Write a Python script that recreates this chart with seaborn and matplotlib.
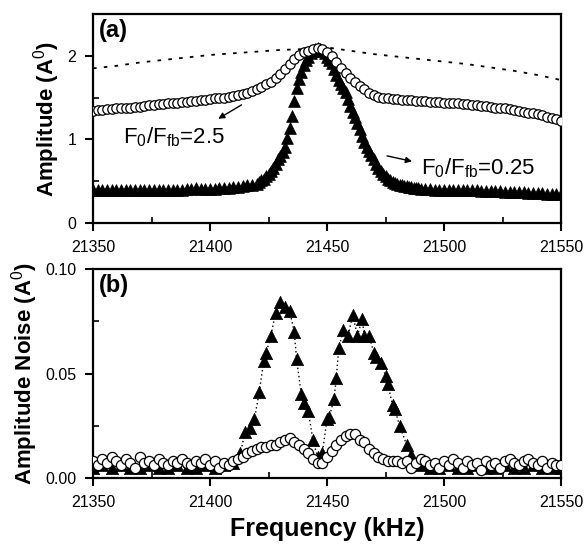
import numpy as np
import pandas as pd
import seaborn as sns
import matplotlib.pyplot as plt
from matplotlib.ticker import MultipleLocator

sns.set_style('ticks')
plt.rcParams['font.family'] = ['Liberation Sans', 'DejaVu Sans']
plt.rcParams['mathtext.fontset'] = 'custom'
plt.rcParams['mathtext.rm'] = 'Liberation Sans'
plt.rcParams['mathtext.it'] = 'Liberation Sans'
plt.rcParams['mathtext.bf'] = 'Liberation Sans:bold'
for key in ['axes.edgecolor', 'axes.labelcolor', 'text.color',
            'xtick.color', 'ytick.color']:
    plt.rcParams[key] = 'black'

# (a) amplitude, F0/Ffb = 2.5 (open circles), 2 kHz grid
freq_circ_a = np.arange(21350, 21551, 2)
amp_circ_a = [1.34, 1.35, 1.35, 1.36, 1.36, 1.37, 1.37, 1.38, 1.38, 1.39,
              1.39, 1.40, 1.41, 1.41, 1.42, 1.42, 1.43, 1.44, 1.44, 1.45,
              1.45, 1.46, 1.46, 1.47, 1.47, 1.48, 1.49, 1.49, 1.50, 1.51,
              1.52, 1.53, 1.54, 1.56, 1.58, 1.60, 1.63, 1.66, 1.69, 1.73,
              1.78, 1.84, 1.90, 1.96, 2.01, 2.04, 2.06, 2.08, 2.09, 2.08,
              2.05, 2.00, 1.93, 1.86, 1.80, 1.74, 1.69, 1.64, 1.60, 1.56,
              1.53, 1.51, 1.50, 1.49, 1.48, 1.48, 1.47, 1.47, 1.47, 1.46,
              1.46, 1.46, 1.45, 1.45, 1.45, 1.44, 1.44, 1.43, 1.43, 1.42,
              1.42, 1.41, 1.41, 1.40, 1.40, 1.39, 1.38, 1.38, 1.37, 1.36,
              1.35, 1.34, 1.33, 1.32, 1.31, 1.30, 1.29, 1.27, 1.26, 1.24,
              1.22]

# (a) amplitude, F0/Ffb = 0.25 (filled triangles)
freq_tri_a = np.concatenate([np.arange(21350, 21420, 2),
                             np.arange(21420, 21491, 1),
                             np.arange(21492, 21551, 2)])
amp_tri_a = [0.39, 0.39, 0.39, 0.39, 0.39, 0.39, 0.39, 0.39, 0.40, 0.40,
             0.40, 0.40, 0.40, 0.40, 0.40, 0.40, 0.40, 0.40, 0.40, 0.40,
             0.41, 0.41, 0.42, 0.41, 0.41, 0.41, 0.41, 0.42, 0.42, 0.42,
             0.43, 0.43, 0.44, 0.45, 0.46,
             0.47, 0.49, 0.51, 0.53, 0.56, 0.59, 0.62, 0.66, 0.71, 0.76,
             0.80, 0.85, 0.91, 1.02, 1.14, 1.28, 1.46, 1.61, 1.72, 1.81,
             1.89, 1.95, 1.99, 2.03, 2.06, 2.08, 2.09, 2.08, 2.06, 2.03,
             1.99, 1.95, 1.91, 1.84, 1.77, 1.71, 1.66, 1.62, 1.57, 1.48,
             1.40, 1.33, 1.27, 1.20, 1.12, 1.04, 0.97, 0.91, 0.86, 0.81,
             0.76, 0.71, 0.66, 0.62, 0.59, 0.56, 0.53, 0.51, 0.49, 0.48,
             0.47, 0.46, 0.45, 0.44, 0.44, 0.43, 0.43, 0.42, 0.42, 0.42,
             0.41,
             0.41, 0.41, 0.40, 0.40, 0.40, 0.40, 0.40, 0.39, 0.39, 0.39,
             0.39, 0.39, 0.38, 0.38, 0.38, 0.38, 0.38, 0.37, 0.37, 0.37,
             0.37, 0.37, 0.36, 0.36, 0.36, 0.36, 0.35, 0.35, 0.35, 0.35]

# (a) dotted reference curve
freq_dot = np.arange(21350, 21551, 10)
amp_dot = [1.85, 1.88, 1.92, 1.95, 1.98, 2.01, 2.03, 2.05, 2.07, 2.08,
           2.10, 2.06, 2.02, 1.99, 1.96, 1.93, 1.90, 1.86, 1.82, 1.77, 1.71]

# (b) amplitude noise, open circles
freq_circ_b = np.arange(21350, 21551, 2)
noise_circ_b = [0.008, 0.006, 0.009, 0.007, 0.010, 0.008, 0.006, 0.009, 0.007, 0.005,
                0.010, 0.007, 0.008, 0.006, 0.009, 0.007, 0.006, 0.008, 0.007, 0.009,
                0.007, 0.006, 0.008, 0.007, 0.009, 0.006, 0.008, 0.005, 0.007, 0.006,
                0.008, 0.009, 0.010, 0.012, 0.013, 0.014, 0.015, 0.015, 0.016, 0.016,
                0.017, 0.018, 0.019, 0.017, 0.016, 0.014, 0.012, 0.009, 0.007, 0.007,
                0.010, 0.013, 0.016, 0.018, 0.020, 0.021, 0.021, 0.018, 0.017, 0.014,
                0.012, 0.010, 0.009, 0.008, 0.008, 0.008, 0.007, 0.008, 0.005, 0.007,
                0.009, 0.008, 0.006, 0.007, 0.005, 0.008, 0.006, 0.009, 0.007, 0.005,
                0.008, 0.006, 0.007, 0.004, 0.008, 0.006, 0.007, 0.005, 0.008, 0.009,
                0.007, 0.006, 0.008, 0.009, 0.007, 0.006, 0.008, 0.005, 0.007, 0.006,
                0.006]

# (b) amplitude noise, filled triangles
freq_tri_b = [21350, 21354, 21358, 21362, 21366, 21370, 21374, 21378, 21382, 21386,
              21390, 21394, 21398, 21402, 21406, 21410,
              21413, 21415, 21417, 21419, 21421, 21423, 21424, 21426, 21428, 21430,
              21432, 21434, 21436, 21437, 21439, 21440, 21442, 21444, 21446, 21448,
              21450, 21451, 21453, 21454, 21455, 21457, 21459, 21461, 21463, 21465,
              21466, 21468, 21470, 21471, 21473, 21475, 21476, 21478, 21479, 21481,
              21484, 21486,
              21490, 21494, 21498, 21502, 21506, 21510, 21514, 21518, 21522, 21526,
              21530, 21534, 21538, 21542, 21546, 21550]
noise_tri_b = [0.005, 0.006, 0.005, 0.006, 0.005, 0.005, 0.006, 0.005, 0.005, 0.006,
               0.005, 0.005, 0.006, 0.005, 0.006, 0.007,
               0.012, 0.022, 0.024, 0.028, 0.041, 0.056, 0.060, 0.068, 0.079, 0.084,
               0.082, 0.080, 0.070, 0.057, 0.040, 0.036, 0.032, 0.018, 0.010, 0.012,
               0.028, 0.029, 0.038, 0.048, 0.062, 0.071, 0.068, 0.078, 0.068, 0.076,
               0.068, 0.068, 0.060, 0.058, 0.055, 0.049, 0.045, 0.035, 0.033, 0.025,
               0.016, 0.011,
               0.006, 0.005, 0.005, 0.006, 0.005, 0.005, 0.006, 0.005, 0.005, 0.006,
               0.005, 0.005, 0.006, 0.005, 0.005, 0.005]

xticks = [21350, 21400, 21450, 21500, 21550]

circ_a = pd.DataFrame({'f': freq_circ_a, 'a': amp_circ_a})
tri_a = pd.DataFrame({'f': freq_tri_a, 'a': amp_tri_a})
dot_a = pd.DataFrame({'f': freq_dot, 'a': amp_dot})
circ_b = pd.DataFrame({'f': freq_circ_b, 'n': noise_circ_b})
tri_b = pd.DataFrame({'f': freq_tri_b, 'n': noise_tri_b})

fig = plt.figure(figsize=(5.84, 5.48), dpi=100)
ax1 = fig.add_axes([93 / 584, (548 - 223) / 548, 468 / 584, 209 / 548])
ax2 = fig.add_axes([93 / 584, (548 - 478) / 548, 468 / 584, 209 / 548])

# panel (a)
sns.lineplot(data=dot_a, x='f', y='a', ax=ax1, color='k', lw=1.3,
             linestyle=(0, (2, 4)), zorder=1)
sns.scatterplot(data=tri_a, x='f', y='a', ax=ax1, marker='^', s=72,
                color='k', edgecolor='k', linewidth=0.5, zorder=2)
sns.scatterplot(data=circ_a, x='f', y='a', ax=ax1, marker='o', s=46,
                facecolor='white', edgecolor='k', linewidth=0.9, zorder=3)
ax1.set_ylim(0, 2.5)
ax1.yaxis.set_major_locator(MultipleLocator(1))
ax1.yaxis.set_minor_locator(MultipleLocator(0.5))
ax1.set_xlabel('')
ax1.set_ylabel(r'Amplitude (A$^0$)', fontsize=16, fontweight='bold')
ax1.text(0.012, 0.975, '(a)', transform=ax1.transAxes, fontsize=17,
         fontweight='bold', va='top', ha='left')
ax1.text(21363, 1.03, r'F$_0$/F$_{fb}$=2.5', fontsize=16, va='center')
ax1.annotate('', xy=(21402.5, 1.23), xytext=(21414.5, 1.43),
             arrowprops=dict(arrowstyle='-|>', color='k', lw=1,
                             mutation_scale=9))
ax1.text(21490, 0.66, r'F$_0$/F$_{fb}$=0.25', fontsize=16, va='center')
ax1.annotate('', xy=(21487.5, 0.73), xytext=(21474.5, 0.81),
             arrowprops=dict(arrowstyle='-|>', color='k', lw=1,
                             mutation_scale=9))

# panel (b)
sns.lineplot(data=tri_b, x='f', y='n', ax=ax2, color='k', lw=1.0,
             linestyle=(0, (1, 2)), zorder=1)
sns.scatterplot(data=tri_b, x='f', y='n', ax=ax2, marker='^', s=78,
                color='k', edgecolor='k', linewidth=0.5, zorder=2)
sns.scatterplot(data=circ_b, x='f', y='n', ax=ax2, marker='o', s=54,
                facecolor='white', edgecolor='k', linewidth=0.9, zorder=3)
ax2.set_ylim(0, 0.10)
ax2.set_yticks([0, 0.05, 0.10])
ax2.set_yticklabels(['0.00', '0.05', '0.10'])
ax2.yaxis.set_minor_locator(MultipleLocator(0.025))
ax2.set_ylabel(r'Amplitude Noise (A$^0$)', fontsize=16, fontweight='bold')
ax2.set_xlabel('Frequency (kHz)', fontsize=18, fontweight='bold', labelpad=5)
ax2.text(0.012, 0.975, '(b)', transform=ax2.transAxes, fontsize=17,
         fontweight='bold', va='top', ha='left')

for ax in (ax1, ax2):
    ax.set_xlim(21350, 21550)
    ax.set_xticks(xticks)
    ax.xaxis.set_minor_locator(MultipleLocator(25))
    ax.tick_params(which='major', direction='out', length=6, width=1.5,
                   labelsize=11.5, pad=6, top=False, right=False)
    ax.tick_params(which='minor', direction='in', length=4, width=1.2,
                   top=False, right=False)
    for sp in ax.spines.values():
        sp.set_linewidth(1.6)
        sp.set_visible(True)

fig.savefig('out.png', dpi=100)
